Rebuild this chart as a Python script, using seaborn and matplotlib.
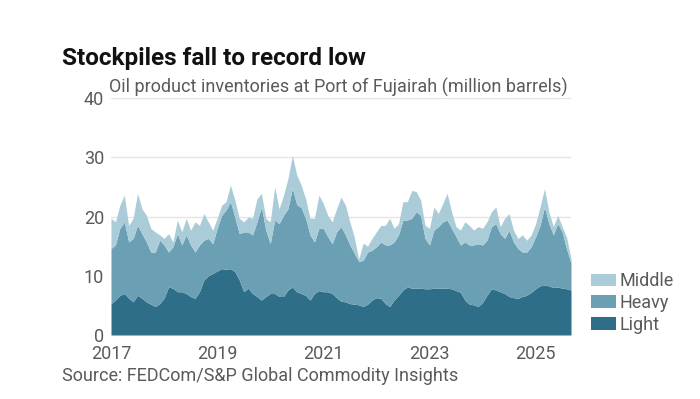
import numpy as np
import pandas as pd
import matplotlib
matplotlib.use("Agg")
import matplotlib.pyplot as plt
from matplotlib.patches import Patch
import seaborn as sns

# Monthly readings, Jan 2017 .. Sep 2025 (million barrels)
start_year = 2017
light = [5.3, 5.9, 6.7, 7.0, 6.2, 5.6, 6.7, 6.2, 5.6, 5.2, 4.8, 5.3,
         6.2, 8.1, 7.9, 7.3, 7.3, 7.0, 6.5, 6.2, 7.3, 9.3, 10.0, 10.4,
         10.8, 11.2, 11.1, 11.2, 10.7, 9.3, 7.3, 7.9, 7.0, 6.5, 5.9, 6.5,
         7.0, 7.0, 6.5, 6.5, 7.6, 8.1, 7.3, 7.0, 6.7, 5.9, 7.0, 7.5,
         7.3, 7.3, 7.0, 6.3, 5.7, 5.6, 5.3, 5.2, 5.1, 4.8, 5.2, 5.9,
         6.3, 6.2, 5.3, 4.8, 5.9, 6.7, 7.6, 8.1, 7.9, 7.9, 7.9, 7.8,
         7.8, 7.9, 7.9, 7.9, 7.9, 7.8, 7.5, 7.2, 5.9, 5.2, 5.1, 4.8,
         5.5, 6.7, 7.8, 7.6, 7.3, 7.0, 6.5, 6.3, 6.2, 6.5, 6.7, 7.2,
         7.8, 8.3, 8.4, 8.3, 8.0, 8.1, 7.9, 7.8, 7.6]
heavy = [9.3, 9.3, 11.3, 12.1, 9.5, 10.7, 11.8, 10.9, 10.1, 8.8, 9.2, 10.7,
         9.0, 5.9, 7.0, 9.8, 7.9, 9.9, 8.7, 7.8, 7.9, 6.7, 6.3, 5.0,
         7.2, 9.0, 10.0, 11.3, 9.2, 7.8, 10.1, 9.5, 9.9, 12.6, 15.7, 11.2,
         8.4, 12.4, 12.3, 13.7, 13.7, 16.7, 14.7, 14.5, 13.0, 11.0, 8.7, 10.5,
         10.7, 9.3, 8.4, 11.1, 12.6, 11.3, 9.9, 8.6, 7.3, 7.8, 8.8, 8.4,
         8.6, 9.5, 9.9, 10.4, 9.8, 10.2, 11.8, 11.3, 11.8, 12.9, 12.3, 8.5,
         7.4, 9.8, 10.4, 11.2, 11.5, 10.2, 9.1, 8.0, 9.8, 10.0, 10.1, 10.6,
         9.7, 9.3, 10.5, 11.2, 9.8, 9.3, 11.2, 9.4, 8.4, 7.5, 7.3, 7.7,
         8.8, 10.2, 13.2, 10.5, 8.9, 10.7, 9.5, 6.7, 4.6]
middle = [5.1, 3.9, 3.9, 4.5, 2.8, 3.4, 5.4, 4.2, 4.5, 4.0, 3.4, 0.9,
          1.1, 3.1, 0.8, 2.3, 2.2, 2.8, 2.5, 5.1, 3.3, 4.5, 2.8, 2.3,
          1.7, 1.7, 1.4, 2.8, 2.9, 2.6, 1.7, 2.5, 2.8, 3.9, 2.3, 2.0,
          3.7, 5.6, 2.5, 3.4, 5.1, 5.5, 5.0, 3.8, 3.3, 2.8, 4.0, 5.6,
          4.2, 3.6, 3.7, 3.9, 5.0, 5.0, 3.9, 2.7, 0.4, 2.9, 1.0, 2.0,
          2.5, 2.8, 3.3, 4.5, 2.3, 1.9, 3.1, 3.1, 4.7, 3.4, 2.6, 2.2,
          2.8, 3.9, 2.2, 3.1, 4.5, 2.8, 1.7, 2.5, 3.4, 3.3, 2.5, 2.9,
          2.8, 3.1, 2.5, 2.8, 1.2, 3.4, 2.8, 2.0, 1.7, 2.9, 2.0, 2.0,
          2.2, 3.1, 3.1, 2.0, 1.4, 1.4, 0.9, 2.0, 0.7]

series_names = ["Light", "Heavy", "Middle"]
x_ticks = [2017, 2019, 2021, 2023, 2025]
y_ticks = [0, 10, 20, 30, 40]

title = "Stockpiles fall to record low"
subtitle = "Oil product inventories at Port of Fujairah (million barrels)"
source = "Source: FEDCom/S&P Global Commodity Insights"

df = pd.DataFrame({"Light": light, "Heavy": heavy, "Middle": middle})
df["t"] = start_year + np.arange(len(df)) / 12.0

sns.set_theme(style="white")
plt.rcParams["font.family"] = ["Roboto", "DejaVu Sans"]

colors = {"Light": "#2e6e88", "Heavy": "#6a9fb4", "Middle": "#a9ccd8"}
text_gray = "#5a5a5a"

fig = plt.figure(figsize=(7.0, 3.99), dpi=100)
ax = fig.add_axes([111 / 700, 1 - 335 / 399, 460 / 700, 237 / 399])

ax.stackplot(df["t"], [df[s] for s in series_names],
             colors=[colors[s] for s in series_names], linewidth=0, zorder=2)

ax.set_xlim(df["t"].iloc[0], df["t"].iloc[-1])
ax.set_ylim(0, 40)
ax.set_yticks(y_ticks)
ax.set_xticks(x_ticks)
ax.set_xticklabels([str(v) for v in x_ticks])
ax.grid(axis="y", color="#ebe3df", linewidth=1.0, zorder=0)
ax.grid(axis="x", visible=False)
sns.despine(ax=ax, left=True, bottom=True, top=True, right=True)
ax.tick_params(axis="both", length=0, labelsize=13, labelcolor=text_gray)
ax.tick_params(axis="y", pad=5)
ax.tick_params(axis="x", pad=7)
ax.set_xlabel("")
ax.set_ylabel("")

fig.text(62 / 700, 1 - 58 / 399, title, fontsize=17.5, fontweight="bold",
         color="#111111", va="center", ha="left")
fig.text(109 / 700, 1 - 87 / 399, subtitle, fontsize=13, color=text_gray,
         va="center", ha="left")
fig.text(62 / 700, 1 - 376 / 399, source, fontsize=13, color=text_gray,
         va="center", ha="left")

handles = [Patch(facecolor=colors[s], edgecolor="none") for s in ["Middle", "Heavy", "Light"]]
fig.legend(handles, ["Middle", "Heavy", "Light"], loc="center left",
           bbox_to_anchor=(591 / 700, 1 - 303 / 399), frameon=False,
           fontsize=13, labelcolor=text_gray, handlelength=1.4,
           handleheight=0.7, handletextpad=0.2, labelspacing=0.2,
           borderaxespad=0, borderpad=0)

fig.savefig("out.png", dpi=100, facecolor="white")
